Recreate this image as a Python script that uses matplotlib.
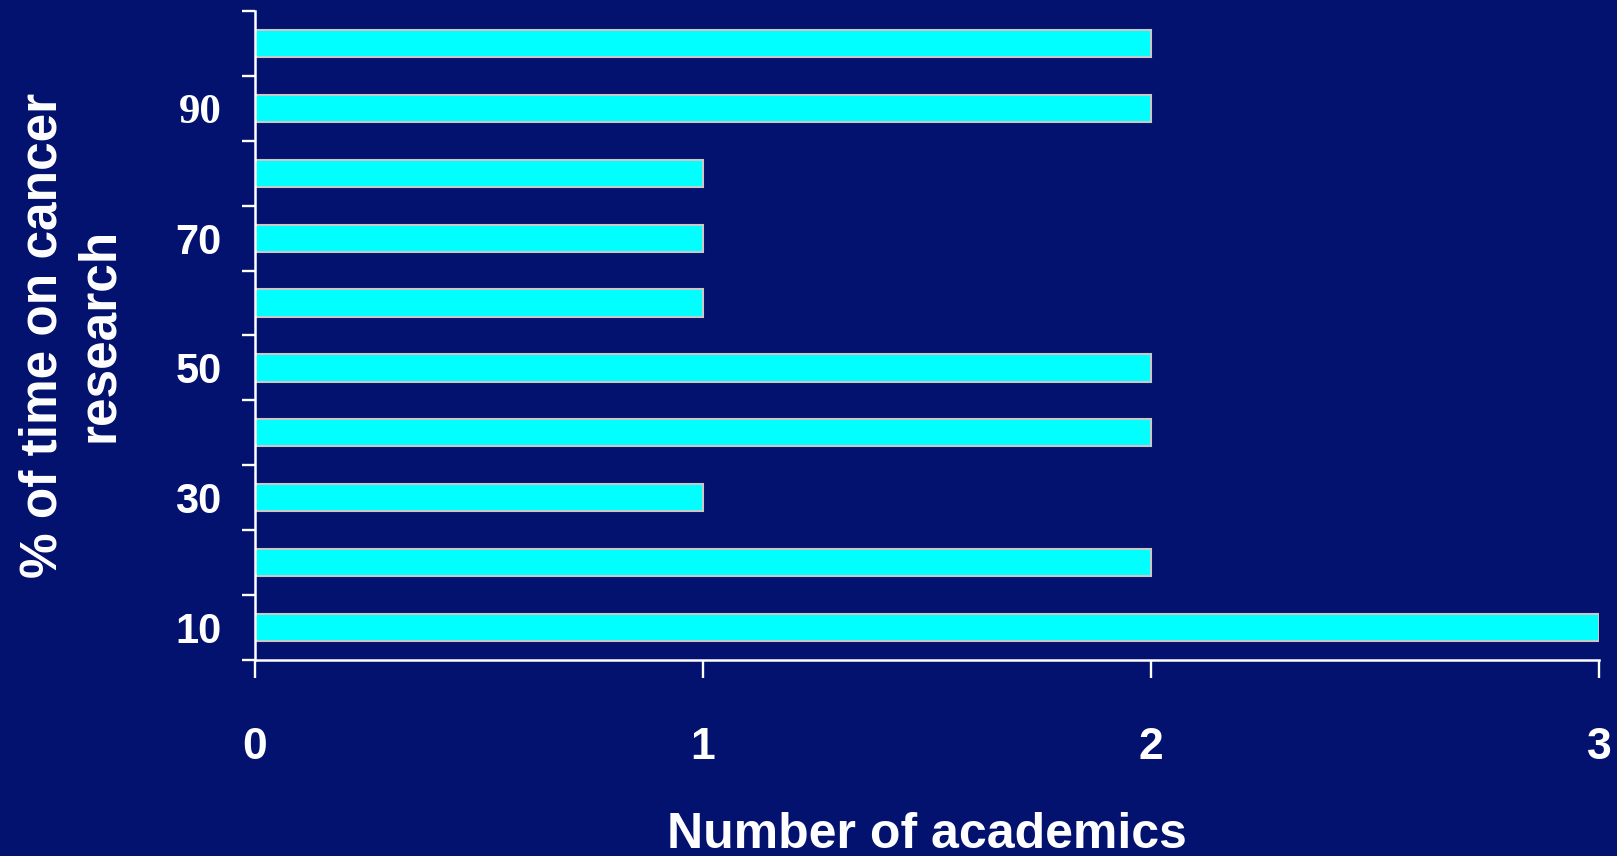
import matplotlib
matplotlib.use("Agg")
import matplotlib.pyplot as plt
import numpy as np

# Data
categories = ["10", "20", "30", "40", "50", "60", "70", "80", "90", "100"]
counts = [3, 2, 1, 2, 2, 1, 1, 1, 2, 2]
ytick_labels = ["10", "", "30", "", "50", "", "70", "", "90", ""]
xticks = [0, 1, 2, 3]

BG = "#03126F"
BAR = "#00FFFF"
EDGE = "#C8C8C8"
WHITE = "white"

plt.rcParams["font.family"] = ["Liberation Sans", "DejaVu Sans"]
plt.rcParams["font.weight"] = "bold"

fig = plt.figure(figsize=(16.17, 8.56), dpi=100, facecolor=BG)
ax = fig.add_axes([255 / 1617, 1 - 660 / 856, (1599 - 255) / 1617, (660 - 11) / 856])
ax.set_facecolor(BG)

pos = np.arange(len(categories))
ax.barh(pos, counts, height=0.42, color=BAR, edgecolor=EDGE, linewidth=1.5, zorder=3)

ax.set_xlim(0, 3)
ax.set_ylim(-0.5, len(categories) - 0.5)

for s in ["top", "right"]:
    ax.spines[s].set_visible(False)
for s in ["left", "bottom"]:
    ax.spines[s].set_color(WHITE)
    ax.spines[s].set_linewidth(1.8)
    ax.spines[s].set_zorder(4)

# y: boundary ticks (major), labels at centres (minor)
ax.set_yticks(np.arange(-0.5, len(categories), 1.0))
ax.set_yticklabels([])
ax.set_yticks(pos, minor=True)
ax.set_yticklabels(ytick_labels, minor=True)
ax.tick_params(axis="y", which="major", length=9.5, width=1.7, color=WHITE, direction="out")
ax.tick_params(axis="y", which="minor", length=0, pad=24, labelsize=30, labelcolor=WHITE)
for lab in ax.get_yticklabels(minor=True):
    lab.set_fontweight("bold")
    if lab.get_text() == "90":
        lab.set_fontfamily(["Liberation Serif", "DejaVu Serif"])
        lab.set_fontsize(31)

ax.set_xticks(xticks)
ax.set_xticklabels([str(v) for v in xticks])
ax.tick_params(axis="x", length=13, width=1.7, color=WHITE, direction="out",
               pad=35, labelsize=32, labelcolor=WHITE)
for lab in ax.get_xticklabels():
    lab.set_fontweight("bold")

fig.text((255 + 1599) / 2 / 1617, 8 / 856, "Number of academics", ha="center", va="baseline",
         color=WHITE, fontsize=36, fontweight="bold")
fig.text(71 / 1617, 1 - 335 / 856, "% of time on cancer\nresearch", rotation=90,
         ha="center", va="center", multialignment="center", color=WHITE,
         fontsize=37, fontweight="bold", linespacing=1.2)

fig.savefig("out.png", dpi=100, facecolor=BG)
